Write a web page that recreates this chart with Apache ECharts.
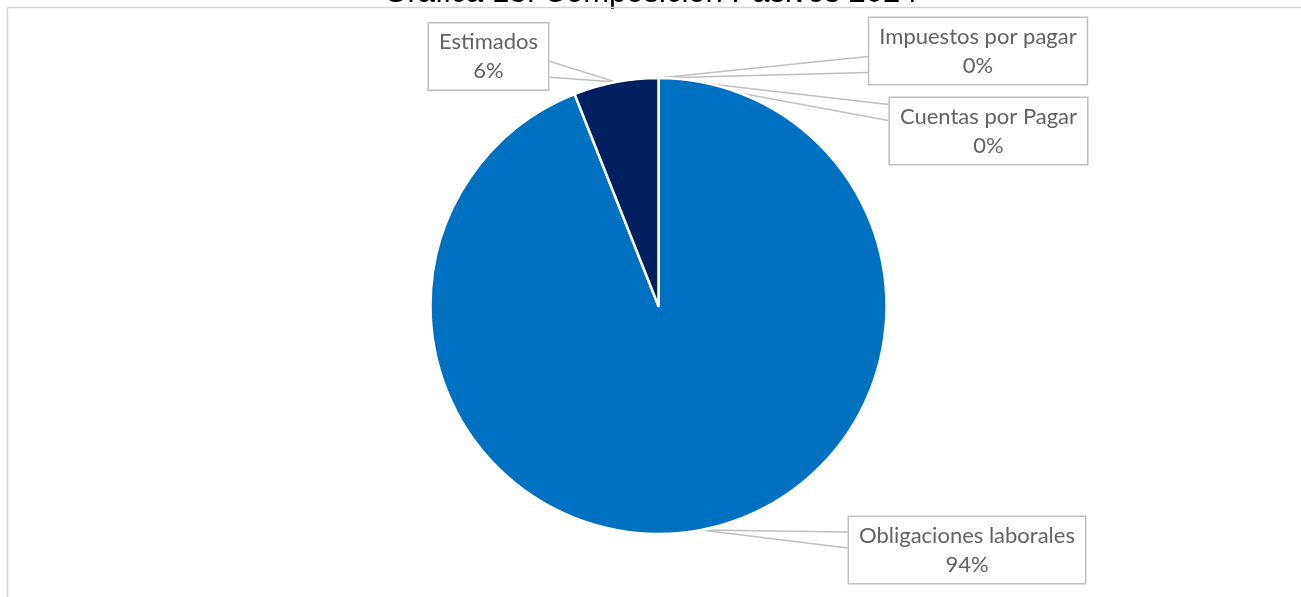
<!DOCTYPE html>
<html>
<head>
<meta charset="utf-8">
<script src="https://cdn.jsdelivr.net/npm/echarts@6/dist/echarts.min.js"></script>
<style>
html,body{margin:0;padding:0;background:#fff;}
#chart{width:1301px;height:597px;}
</style>
</head>
<body>
<div id="chart"></div>
<script>
// ---- data ----
const titleText = 'Gráfica 13. Composición Pasivos 2024';
const categories = ['Impuestos por pagar', 'Cuentas por Pagar', 'Obligaciones laborales', 'Estimados'];
const values = [0, 0, 94, 6];
const colors = ['#4472C4', '#ED7D31', '#0070C0', '#002060'];

// ---- label box placement (style) ----
const labelCenters = [[978, 51], [988.5, 131], [967, 550], [488.5, 56.5]];

const chart = echarts.init(document.getElementById('chart'), null, {renderer: 'canvas'});
const CX = 658.5, CY = 306, R = 228;

function clamp(v, a, b) { return Math.max(a, Math.min(b, v)); }

const option = {
  animation: false,
  backgroundColor: '#ffffff',
  graphic: [
    {type: 'text', left: 'center', z: 1, style: {x: 0, y: 0, text: titleText, font: '31px "Liberation Sans", Arial, sans-serif', fill: '#000'}, top: -22},
    {type: 'line', z: 2, shape: {x1: 7.5, y1: 7.5, x2: 1301, y2: 7.5}, style: {stroke: '#d4d4d4', lineWidth: 1.5}},
    {type: 'line', z: 2, shape: {x1: 7.5, y1: 7.5, x2: 7.5, y2: 597}, style: {stroke: '#d4d4d4', lineWidth: 1.5}}
  ],
  series: [{
    type: 'pie',
    center: [CX, CY],
    radius: R,
    startAngle: 90,
    clockwise: true,
    avoidLabelOverlap: false,
    minShowLabelAngle: 0,
    stillShowZeroSum: true,
    data: categories.map((c, i) => ({name: c, value: values[i], itemStyle: {color: colors[i]}})),
    itemStyle: {borderColor: '#ffffff', borderWidth: 2.5},
    label: {
      show: true,
      position: 'outside',
      formatter: function (p) { return p.name + '\n' + Math.round(p.percent) + '%'; },
      fontFamily: 'Lato, "Noto Sans", sans-serif',
      fontSize: 22,
      lineHeight: 29,
      color: '#626262',
      align: 'center',
      backgroundColor: '#ffffff',
      borderColor: '#bfbfbf',
      borderWidth: 1.5,
      padding: [4, 10, 4, 10]
    },
    labelLine: {show: true, length: 10, length2: 10, lineStyle: {color: '#bfbfbf', width: 1.5}},
    labelLayout: function (params) {
      const i = params.dataIndex;
      const c = labelCenters[i];
      const w = params.labelRect.width, h = params.labelRect.height;
      const left = c[0] - w / 2, right = c[0] + w / 2, top = c[1] - h / 2, bottom = c[1] + h / 2;
      let a = params.labelLinePoints && params.labelLinePoints[0];
      if (!a) { a = [CX, CY - R]; }
      const edgeX = a[0] < left ? left : (a[0] > right ? right : c[0]);
      const wy = clamp(c[1] + 0.5 * (a[1] - c[1]), top + 16, bottom - 16);
      return {
        x: c[0], y: c[1], align: 'center', verticalAlign: 'middle',
        labelLinePoints: [[edgeX, wy - 8], [a[0], a[1]], [edgeX, wy + 8]]
      };
    },
    emphasis: {disabled: true}
  }]
};
chart.setOption(option);
</script>
</body>
</html>
